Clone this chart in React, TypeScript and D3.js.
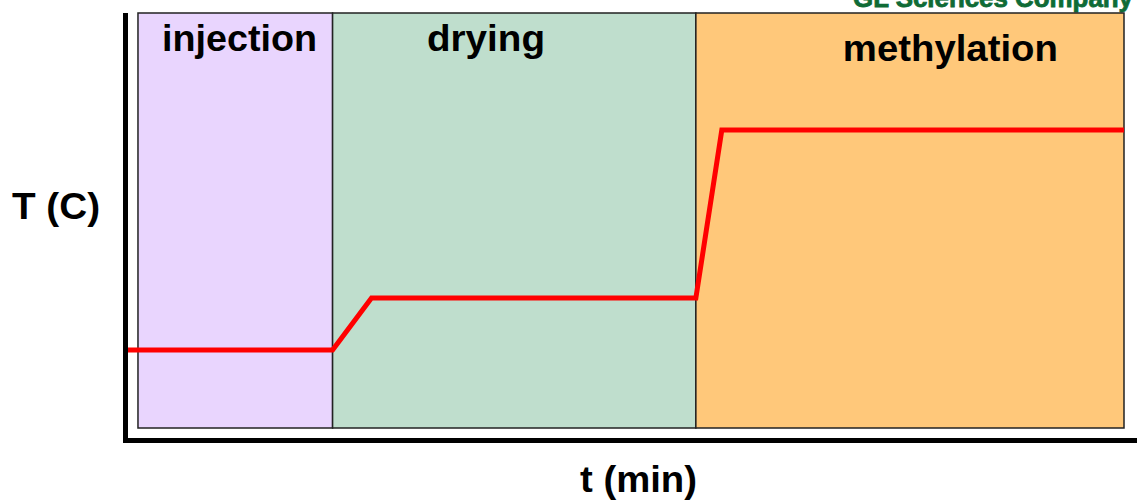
import React from "react";
import * as d3 from "d3";

const phaseNames = ["injection", "drying", "methylation"];
const phaseStarts = [1.2, 20.7, 57.1];
const phaseEnds = [20.7, 57.1, 100];
const phaseColors = ["#E9D5FE", "#BFDECD", "#FFC87A"];
const labelTimes = [11.37, 36.07, 82.6];
const labelLevels = [90.8, 90.8, 88.5];
const labelWidths = [155, 118, 215];

const profileTime = [0, 20.7, 24.6, 57.1, 59.7, 100];
const profileTemp = [18.8, 18.8, 31.3, 31.3, 71.8, 71.8];

export default function App() {
  const W = 1137, H = 500;
  const x = d3.scaleLinear().domain([0, 100]).range([126, 1124]);
  const y = d3.scaleLinear().domain([0, 100]).range([428, 13]);
  const pts: [number, number][] = profileTime.map((t, i) => [t, profileTemp[i]]);
  const line = d3.line<[number, number]>().x(d => x(d[0])).y(d => y(d[1]));
  const font = "Arial, 'Liberation Sans', Helvetica, sans-serif";
  return (
    <svg width={W} height={H} style={{ position: "absolute", left: 0, top: 0, background: "#fff" }}>
      <text x={853} y={6.5} fontFamily={font} fontWeight="bold" fontSize={26} fill="#0F6B36"
        textLength={280} lengthAdjust="spacingAndGlyphs" stroke="#0F6B36" strokeWidth={0.8}>
        GL Sciences Company
      </text>
      {phaseNames.map((n, i) => (
        <rect key={n} x={x(phaseStarts[i])} y={y(100)} width={x(phaseEnds[i]) - x(phaseStarts[i])}
          height={y(0) - y(100)} fill={phaseColors[i]} stroke="#222" strokeWidth={1.5} />
      ))}
      {phaseNames.map((n, i) => (
        <text key={n} x={x(labelTimes[i]) - labelWidths[i] / 2} y={y(labelLevels[i])} fontFamily={font}
          fontWeight="bold" fontSize={37} fill="#000" textLength={labelWidths[i]}
          lengthAdjust="spacingAndGlyphs">{n}</text>
      ))}
      <path d={line(pts) || ""} fill="none" stroke="#FF0000" strokeWidth={5} strokeLinejoin="miter" />
      <line x1={125.5} x2={125.5} y1={13} y2={443} stroke="#000" strokeWidth={5} />
      <line x1={123} x2={1137} y1={440.5} y2={440.5} stroke="#000" strokeWidth={5} />
      <text x={12} y={219} fontFamily={font} fontWeight="bold" fontSize={36} fill="#000"
        textLength={88} lengthAdjust="spacingAndGlyphs">T (C)</text>
      <text x={580} y={492} fontFamily={font} fontWeight="bold" fontSize={37} fill="#000"
        textLength={117} lengthAdjust="spacingAndGlyphs">t (min)</text>
    </svg>
  );
}
